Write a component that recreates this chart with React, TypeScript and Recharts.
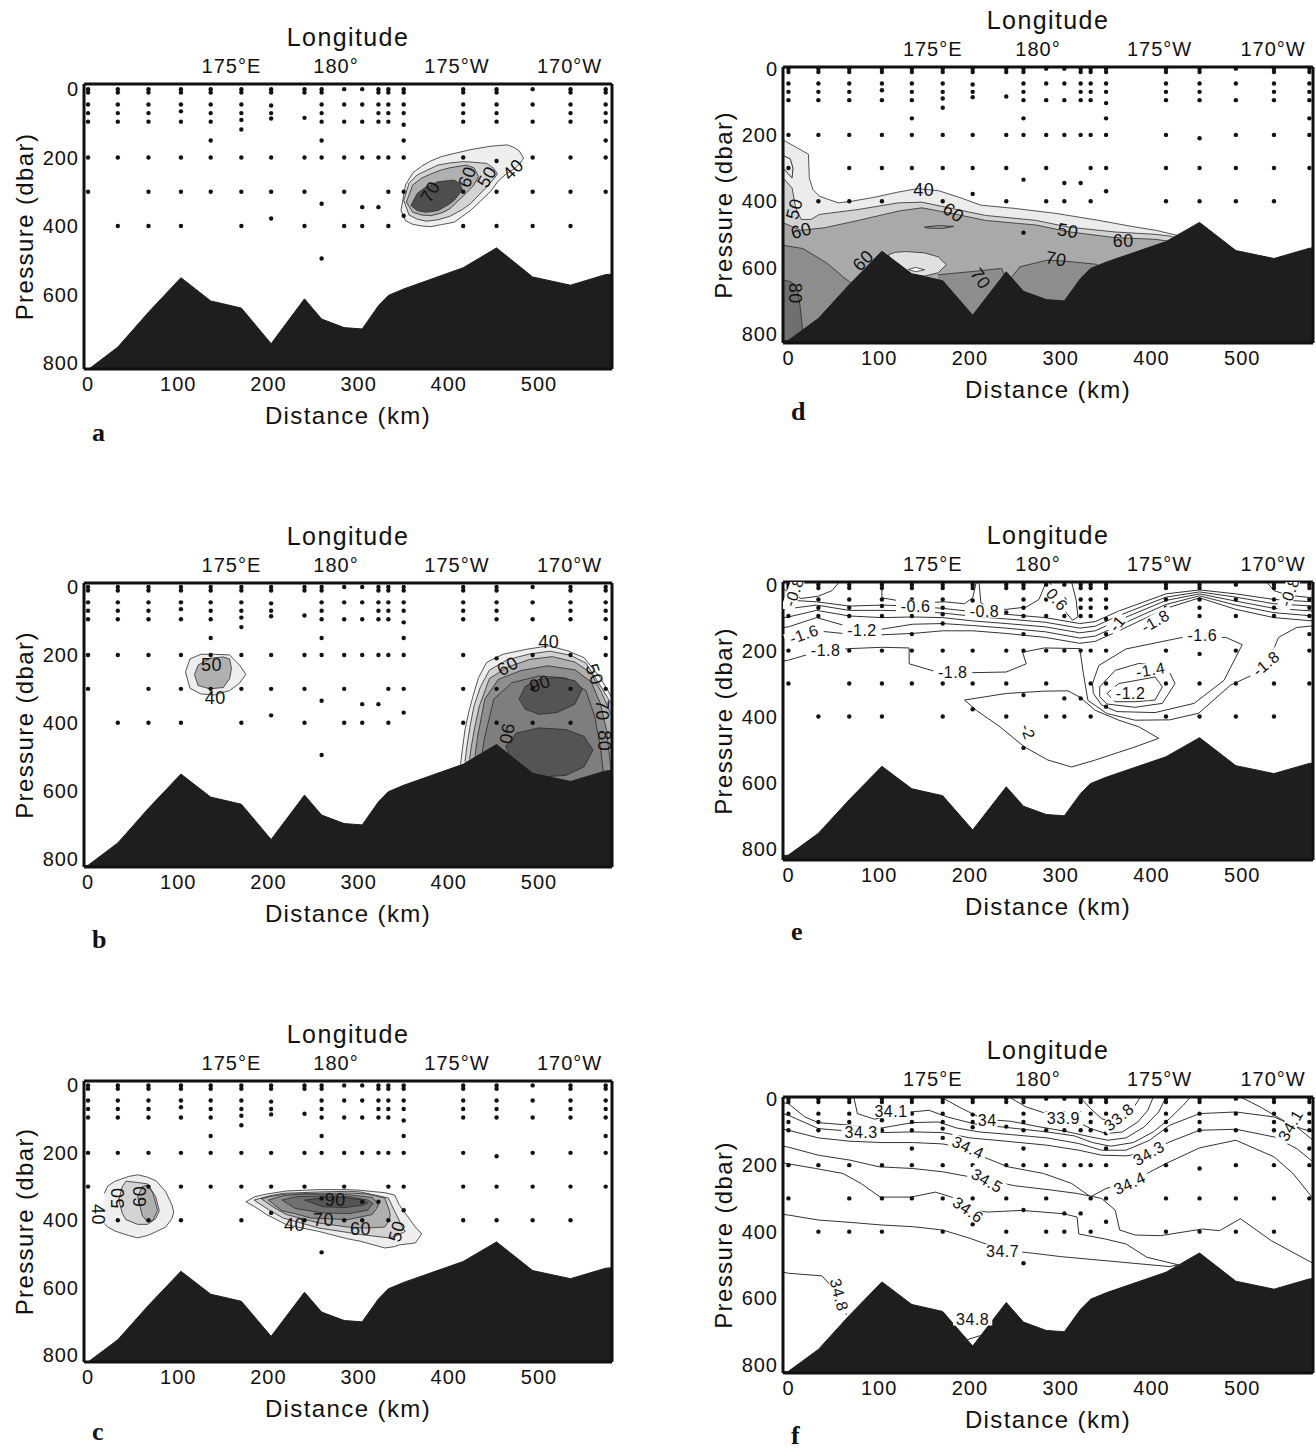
import React from 'react';
import { ComposedChart, XAxis, YAxis, Area, Line, Scatter } from 'recharts';

// ---------------- axes ----------------
const distanceTicks = [0, 100, 200, 300, 400, 500];
const pressureTicks = [0, 200, 400, 600, 800];
const longitudeTickKm = [159, 275, 409, 534];
const longitudeTickLabels = ['175°E', '180°', '175°W', '170°W'];

// ---------------- stations & bottom ----------------
const stationKm = [0, 33, 67, 103, 136, 170, 203, 240, 259, 284, 304, 322, 333, 350, 416, 453, 493, 535, 574];
const stationLevels = [
  [0, 10, 45, 70, 95, 200, 300],
  [0, 10, 45, 70, 95, 200, 400],
  [0, 10, 45, 70, 95, 200, 300, 400],
  [0, 10, 45, 65, 95, 200, 300, 400],
  [0, 10, 45, 70, 95, 150, 200, 300],
  [0, 10, 45, 70, 90, 118, 200, 300, 400],
  [0, 10, 48, 70, 86, 200, 300, 378],
  [0, 10, 84, 200, 300, 400],
  [0, 10, 45, 70, 95, 150, 200, 335, 495],
  [0, 45, 95, 200, 300, 400],
  [0, 45, 95, 200, 345, 400],
  [0, 10, 45, 70, 95, 200, 345],
  [0, 10, 45, 70, 95, 200, 300, 400],
  [0, 10, 45, 70, 104, 150, 200, 300, 370],
  [0, 10, 45, 70, 95, 200, 300, 400],
  [0, 10, 45, 70, 95, 210, 300, 400],
  [0, 45, 95, 200, 300, 400],
  [0, 10, 45, 70, 95, 200, 300, 400],
  [0, 10, 45, 70, 95, 150, 200, 300],
];
const bottomKm = [-6, 0, 33, 67, 103, 136, 170, 203, 240, 259, 284, 304, 322, 333, 350, 416, 453, 493, 535, 574, 585];
const bottomDepth = [822, 820, 754, 652, 551, 619, 640, 744, 613, 672, 697, 701, 633, 603, 584, 522, 464, 549, 573, 542, 540];

// ---------------- panel a : [km, top, bottom] ----------------
const a40 = [[347,355,355],[352,280,385],[360,245,395],[370,225,400],[380,210,402],[392,197,396],[406,188,389],[424,177,355],[446,167,300],[455,165,268],[465,163,245],[472,170,234],[478,180,220],[483,202,202]];
const a50 = [[350,325,325],[356,275,368],[365,251,380],[375,238,386],[388,222,382],[401,216,372],[415,212,352],[424,213,335],[442,217,286],[450,232,262],[454,248,248]];
const a60 = [[353,330,330],[360,280,360],[370,260,368],[380,248,370],[392,236,362],[401,230,350],[419,222,305],[428,230,280],[433,255,255]];
const a70 = [[358,340,340],[365,305,355],[375,285,360],[388,271,355],[400,267,337],[406,266,325],[412,275,305],[415,292,292]];
const aLabels = [[379,300,'70',-60],[420,256,'60',-70],[442,256,'50',-60],[471,234,'40',-45]];

// ---------------- panel b ----------------
const b40s = [[108,250,250],[113,212,298],[125,198,315],[140,198,318],[157,200,305],[168,230,283],[175,257,257]];
const b50s = [[118,258,258],[122,230,290],[135,210,300],[150,206,296],[157,212,270],[159,240,240]];
const b40 = [[413,523,620],[415,480,620],[418,420,620],[422,370,620],[427,320,620],[433,267,620],[442,222,620],[460,198,620],[487,183,620],[511,173,620],[532,188,620],[550,208,620],[568,267,620],[582,330,620]];
const b50 = [[418,515,620],[420,470,620],[424,405,620],[428,350,620],[435,295,620],[445,245,620],[465,214,620],[490,197,620],[512,189,620],[535,201,620],[552,224,620],[566,282,620],[582,352,620]];
const b60 = [[423,508,620],[425,470,620],[429,410,620],[434,350,620],[445,270,620],[465,236,620],[490,213,620],[515,205,620],[540,221,620],[558,254,620],[570,314,620],[582,388,620]];
const b70 = [[429,500,620],[432,440,620],[440,330,620],[455,272,620],[480,246,620],[510,232,620],[540,244,620],[558,280,620],[568,342,620],[575,422,620],[580,540,620]];
const b80 = [[437,488,620],[440,440,620],[450,330,620],[470,282,620],[500,262,620],[530,268,620],[552,305,620],[562,382,620],[568,470,620],[572,560,620]];
const b90a = [[478,330,330],[485,292,360],[500,272,375],[520,266,370],[540,276,345],[548,300,300]];
const b90b = [[463,470,470],[475,430,540],[500,415,560],[530,420,555],[550,440,530],[560,480,480]];
const bLabels = [[137,227,'50',0],[141,325,'40',0],[511,160,'40',0],[465,232,'60',-30],[562,257,'50',70],[571,363,'70',90],[573,453,'80',90],[501,284,'90',-20],[465,433,'90',100]];

// ---------------- panel c ----------------
const c40L = [[18,320,410],[22,298,420],[30,284,432],[45,270,445],[55,265,452],[66,272,445],[76,284,433],[86,315,420],[93,354,395],[95,375,375]];
const c50L = [[34,340,340],[38,300,380],[42,284,398],[55,288,412],[66,292,412],[75,330,395],[79,372,372]];
const c60L = [[55,330,330],[60,300,385],[66,296,405],[72,320,400],[77,370,370]];
const c40C = [[175,345,345],[185,330,360],[198,322,383],[220,313,413],[256,309,433],[288,309,455],[302,311,462],[329,318,482],[340,325,478],[345,354,473],[363,420,467],[370,440,440]];
const c50C = [[184,340,340],[200,328,368],[216,320,393],[256,316,423],[288,314,436],[302,316,442],[333,334,452],[340,373,448],[350,428,436],[352,432,432]];
const c60C = [[192,336,336],[205,328,360],[220,322,383],[256,320,408],[288,319,420],[310,322,423],[329,334,420],[334,370,400],[335,385,385]];
const c70C = [[200,340,340],[215,328,372],[229,324,380],[247,324,393],[288,324,398],[315,332,383],[320,345,365],[322,355,355]];
const c80C = [[215,340,340],[230,330,365],[260,328,378],[290,330,380],[310,340,370],[316,350,350]];
const c90C = [[240,340,340],[260,333,360],[285,333,362],[305,340,355],[310,348,348]];
const cLabels = [[12,383,'40',90],[33,334,'50',-90],[57,329,'60',-90],[229,413,'40',0],[261,398,'70',0],[302,423,'60',0],[342,432,'50',-75],[274,339,'90',0]];

// ---------------- panel d : [km, pressure] band tops ----------------
const d40 = [[-6,215],[22,258],[23,330],[27,365],[34,385],[55,405],[70,400],[95,388],[120,373],[142,362],[165,368],[190,390],[212,412],[250,422],[295,437],[340,457],[380,477],[405,488],[428,503],[440,520],[453,500],[493,580],[535,600],[578,580]];
const d50 = [[-6,330],[4,360],[8,420],[14,455],[25,455],[34,440],[77,425],[121,405],[147,403],[182,423],[217,443],[273,458],[308,478],[360,493],[404,500],[422,506],[440,530],[453,510],[493,590],[535,610],[578,590]];
const d60 = [[-6,465],[14,488],[40,480],[77,458],[121,430],[147,420],[182,438],[217,458],[273,472],[308,492],[360,510],[404,515],[422,522],[440,540],[453,520],[493,600],[535,620],[578,600]];
const d70a = [[-6,533],[16,543],[43,588],[60,628],[75,660],[80,690]];
const d80 = [[-6,638],[3,643],[10,668],[13,720],[16,800]];
const d70b = [[165,622],[200,613],[235,603],[240,640]];
const d70c = [[243,640],[255,598],[270,588],[285,578],[300,580],[320,585],[338,590],[346,600]];
const dBubble = [[110,562,562],[118,554,600],[130,552,618],[150,556,626],[165,568,616],[174,592,592]];
const dBubbleCore = [[132,606,606],[140,600,613],[150,607,607]];
const dLoopA = [[150,478],[165,474],[182,476],[170,482],[152,481],[150,478]];
const dLoopB = [[-6,262],[2,272],[5,300],[4,330],[0,318],[-6,300]];
const dLabels = [[149,366,'40',0],[182,433,'60',35],[6,423,'50',-75],[14,488,'60',-15],[308,488,'50',10],[369,518,'60',0],[82,578,'60',-45],[295,573,'70',10],[212,633,'70',55],[8,678,'80',90]];

// ---------------- panel e : contour lines [km, pressure] ----------------
const e08a = [[-6,12],[4,30],[14,42],[33,35],[48,18],[56,-8]];
const e06a = [[103,-8],[103,40],[124,50],[150,55],[172,52],[194,58],[203,40],[207,-8]];
const e08b = [[210,-8],[212,55],[222,72],[240,75],[262,68],[276,45],[284,-8]];
const e06b = [[288,-8],[296,40],[306,85],[313,108],[319,98],[317,47],[312,-8]];
const e08c = [[527,-8],[535,18],[550,32],[578,40]];
const eBand1 = [[-6,45],[0,47],[31,52],[67,65],[103,62],[137,65],[170,72],[203,82],[240,90],[283,100],[321,118],[338,112],[364,80],[416,28],[453,16],[493,28],[535,45],[578,52]];
const eBand2 = [[-6,75],[0,73],[31,62],[67,78],[103,78],[137,80],[170,86],[203,96],[240,104],[283,114],[321,132],[338,126],[364,94],[416,38],[453,22],[493,38],[535,58],[578,65]];
const eBand3 = [[-6,100],[0,98],[31,78],[67,95],[103,100],[137,98],[170,100],[203,110],[240,118],[283,128],[321,146],[338,140],[364,108],[416,48],[453,28],[493,50],[535,72],[578,80]];
const eBand4 = [[-6,130],[0,128],[31,100],[67,128],[81,138],[103,135],[137,120],[170,118],[203,124],[240,132],[283,143],[321,162],[338,156],[364,124],[416,60],[453,34],[493,62],[535,85],[578,95]];
const eBand5 = [[-6,158],[0,153],[17,150],[31,140],[67,150],[103,152],[137,148],[170,140],[203,140],[240,148],[283,160],[321,178],[338,172],[364,140],[416,72],[453,40],[493,75],[535,100],[578,110]];
const e18 = [[-6,232],[0,229],[31,204],[67,194],[103,190],[133,192],[133,240],[160,262],[200,267],[240,265],[262,240],[258,205],[282,192],[321,194],[325,270],[330,351],[351,391],[382,411],[420,410],[452,390],[487,305],[526,255],[540,160],[560,130],[578,125]];
const e16Loop = [[335,300],[342,245],[372,195],[434,160],[482,160],[500,182],[480,290],[447,360],[404,388],[362,385],[345,365],[336,330],[335,300]];
const e14Loop = [[343,310],[360,260],[386,239],[417,249],[426,300],[412,360],[382,372],[351,362],[343,340],[343,310]];
const e12Loop = [[351,330],[364,300],[404,280],[412,310],[404,350],[382,355],[360,355],[351,330]];
const e20Loop = [[194,350],[240,330],[282,323],[308,322],[321,341],[338,381],[364,411],[386,431],[408,466],[382,492],[338,532],[312,553],[286,532],[260,492],[233,431],[207,381],[194,350]];
const eLabels = [[6,22,'-0.8',-70],[17,150,'-1.6',-20],[81,138,'-1.2',0],[41,200,'-1.8',0],[140,66,'-0.6',0],[216,80,'-0.8',0],[181,265,'-1.8',0],[296,45,'0.6',50],[362,118,'-1',-50],[404,110,'-1.8',-30],[456,152,'-1.6',0],[399,258,'-1.4',-10],[377,330,'-1.2',0],[526,239,'-1.8',-40],[264,446,'-2',70],[552,22,'-0.8',-70]];

// ---------------- panel f : salinity contours [km, pressure] ----------------
const f338 = [[321,-5],[333,30],[345,60],[358,72],[370,58],[380,28],[388,-5]];
const f339 = [[243,-5],[262,25],[290,50],[315,65],[333,90],[350,105],[368,100],[385,70],[396,35],[402,-5]];
const f340 = [[168,-5],[190,28],[215,62],[245,68],[275,84],[305,98],[333,115],[352,125],[372,118],[392,85],[408,40],[416,-5]];
const f341 = [[72,-5],[76,45],[95,62],[113,48],[135,40],[155,35],[175,55],[205,76],[245,88],[285,100],[315,112],[335,132],[355,143],[380,132],[402,100],[420,60],[435,20],[443,-5]];
const f341r = [[498,-5],[520,25],[548,70],[565,90],[578,100]];
const f342 = [[-6,12],[0,15],[18,55],[33,72],[68,80],[103,88],[137,72],[165,70],[185,88],[210,100],[245,108],[285,118],[320,135],[345,155],[372,155],[398,125],[420,80],[453,45],[493,40],[535,55],[560,85],[578,125]];
const f343 = [[-6,45],[0,50],[33,90],[68,98],[103,102],[137,100],[170,102],[200,118],[240,128],[285,140],[320,155],[345,170],[372,172],[397,162],[420,130],[453,95],[493,92],[535,115],[560,150],[578,190]];
const f344 = [[-6,92],[0,95],[33,118],[68,128],[103,132],[137,132],[169,136],[198,148],[210,170],[242,205],[281,225],[312,255],[333,295],[350,270],[378,250],[416,195],[453,148],[493,125],[535,175],[556,225],[578,300]];
const f345 = [[-6,143],[0,146],[33,170],[68,185],[100,205],[137,210],[170,220],[200,235],[219,246],[250,262],[290,275],[318,285],[345,300],[360,335],[365,395],[382,410],[410,412],[456,392],[475,397],[498,361],[532,427],[578,495]];
const f346 = [[-6,193],[0,196],[30,210],[60,225],[80,255],[101,296],[135,296],[162,281],[190,305],[205,335],[219,341],[257,336],[303,346],[318,356],[320,407],[349,422],[372,437],[395,477],[430,500]];
const f347 = [[-6,348],[0,350],[33,365],[68,372],[103,380],[137,385],[170,395],[200,420],[236,455],[270,465],[300,475],[340,485],[380,495],[420,505],[435,497]];
const f348a = [[-6,522],[0,525],[37,533],[46,560],[56,588],[64,650]];
const f348b = [[193,728],[212,712]];
const fLabels = [[113,38,'34.1',0],[80,100,'34.3',0],[219,66,'34',0],[303,60,'33.9',0],[364,55,'33.8',-40],[198,146,'34.4',25],[219,246,'34.5',30],[198,334,'34.6',35],[236,458,'34.7',0],[397,164,'34.3',-30],[376,254,'34.4',-25],[553,80,'34.1',-60],[56,590,'34.8',75],[203,662,'34.8',0]];

// ---------------- helpers ----------------
const toRange = (arr) => arr.map(([x, t, b]) => ({ x, r: [t, b] }));
const toLine = (arr) => arr.map(([x, y]) => ({ x, y }));
const toLabels = (arr) => arr.map(([x, y, t, a]) => ({ x, y, t, a }));
const stationDots = stationKm.flatMap((x, i) => stationLevels[i].map((y) => ({ x, y })));
const bathymetry = bottomKm.map((x, i) => ({ x, y: bottomDepth[i] }));

const G40 = '#eeeeee', G50 = '#d3d3d3', G60 = '#b0b0b0', G70 = '#8e8e8e', G80 = '#707070', G90 = '#545454';

const LEFT = { left: 84, width: 528, xDomain: [-4.5, 581] };
const RIGHT = { left: 783, width: 530, xDomain: [-6, 578] };

const panels = [
  { ...LEFT, top: 84, height: 285, yDomain: [-15, 818], letter: 'a', letterBase: 442, labelSize: 18, labelBg: false,
    shades: [['r', a40, G40], ['r', a50, G50], ['r', a60, G60], ['r', a70, '#4e4e4e']], lines: [], labels: aLabels },
  { ...LEFT, top: 583, height: 284, yDomain: [-12, 825], letter: 'b', letterBase: 949, labelSize: 18, labelBg: false,
    shades: [['r', b40s, G40], ['r', b50s, G60], ['r', b40, G40], ['r', b50, G50], ['r', b60, G60], ['r', b70, G70], ['r', b80, '#7e7e7e'], ['r', b90a, G90], ['r', b90b, G90]], lines: [], labels: bLabels },
  { ...LEFT, top: 1081, height: 281, yDomain: [-13, 820], letter: 'c', letterBase: 1441, labelSize: 18, labelBg: false,
    shades: [['r', c40L, G40], ['r', c50L, G50], ['r', c60L, G60], ['r', c40C, G40], ['r', c50C, G50], ['r', c60C, G60], ['r', c70C, G70], ['r', c80C, G80], ['r', c90C, G90]], lines: [], labels: cLabels },
  { ...RIGHT, top: 67, height: 276, yDomain: [-5, 828], letter: 'd', letterBase: 421, labelSize: 18, labelBg: false,
    shades: [['f', d40, '#ececec'], ['f', d50, '#d2d2d2'], ['f', d60, '#a9a9a9'], ['f', d70a, '#8d8d8d'], ['f', d80, '#6f6f6f'], ['f', d70b, '#8d8d8d'], ['f', d70c, '#8d8d8d'], ['r', dBubble, '#e0e0e0'], ['r', dBubbleCore, '#ffffff']],
    lines: [dLoopA, dLoopB], labels: dLabels },
  { ...RIGHT, top: 582, height: 278, yDomain: [-8, 835], letter: 'e', letterBase: 941, labelSize: 16, labelBg: true,
    shades: [], lines: [e08a, e06a, e08b, e06b, e08c, eBand1, eBand2, eBand3, eBand4, eBand5, e18, e16Loop, e14Loop, e12Loop, e20Loop], labels: eLabels },
  { ...RIGHT, top: 1097, height: 276, yDomain: [-5, 825], letter: 'f', letterBase: 1445, labelSize: 16, labelBg: true,
    shades: [], lines: [f338, f339, f340, f341, f341r, f342, f343, f344, f345, f346, f347, f348a, f348b], labels: fLabels },
];

const L = 84, R = 4, T = 70, B = 80;

function makeLabelShape(bg, size) {
  return (props) => {
    const { cx, cy } = props;
    const p = props.payload || props;
    if (cx == null || cy == null) return null;
    const w = String(p.t).length * size * 0.58 + 2;
    return (
      <g transform={`translate(${cx},${cy}) rotate(${p.a || 0})`}>
        {bg ? <rect x={-w / 2} y={-size * 0.42} width={w} height={size * 0.84} fill="#ffffff" /> : null}
        <text x={0} y={0} dy="0.36em" textAnchor="middle" fontSize={size} fill="#111" className="clabel">{p.t}</text>
      </g>
    );
  };
}

const dotShape = (props) => (props.cx == null ? null : <circle cx={props.cx} cy={props.cy} r={2.2} fill="#111" />);

function Panel({ spec }) {
  const { left, top, width, height, xDomain, yDomain } = spec;
  const axisLine = { stroke: '#111', strokeWidth: 3 };
  return (
    <div style={{ position: 'absolute', left: left - L, top: top - T }}>
      <ComposedChart width={width + L + R} height={height + T + B} margin={{ top: 0, right: 0, bottom: 0, left: 0 }}>
        <XAxis dataKey="x" type="number" domain={xDomain} allowDataOverflow ticks={distanceTicks} orientation="bottom"
          height={B} tickLine={false} tickSize={0} tickMargin={8} axisLine={axisLine} tick={{ fontSize: 20, fill: '#111' }}
          label={{ value: 'Distance (km)', position: 'insideBottom', offset: 25, fontSize: 24, fill: '#111' }} />
        <XAxis xAxisId="top" dataKey="x" type="number" domain={xDomain} allowDataOverflow ticks={longitudeTickKm} orientation="top"
          height={T} tickLine={false} tickSize={0} tickMargin={11} axisLine={axisLine} tick={{ fontSize: 20, fill: '#111' }}
          tickFormatter={(v) => longitudeTickLabels[longitudeTickKm.indexOf(v)] || ''}
          label={{ value: 'Longitude', position: 'insideTop', offset: 14, fontSize: 25, fill: '#111' }} />
        <YAxis type="number" domain={yDomain} reversed allowDataOverflow ticks={pressureTicks} width={L}
          tickLine={false} tickSize={0} tickMargin={5} axisLine={axisLine} tick={{ fontSize: 20, fill: '#111' }}
          label={{ value: 'Pressure (dbar)', position: 'insideLeft', angle: -90, offset: 24, fontSize: 24, fill: '#111', textAnchor: 'middle' }} />
        <YAxis yAxisId="r" orientation="right" type="number" domain={yDomain} reversed allowDataOverflow width={R}
          tick={false} tickLine={false} axisLine={axisLine} />
        {spec.shades.map(([kind, pts, fill], i) =>
          kind === 'r' ? (
            <Area key={'s' + i} data={toRange(pts)} dataKey="r" type="linear" fill={fill} fillOpacity={1}
              stroke="#2b2b2b" strokeWidth={0.8} dot={false} activeDot={false} isAnimationActive={false} />
          ) : (
            <Area key={'s' + i} data={toLine(pts)} dataKey="y" baseValue="dataMax" type="linear" fill={fill} fillOpacity={1}
              stroke="#2b2b2b" strokeWidth={0.8} dot={false} activeDot={false} isAnimationActive={false} />
          )
        )}
        {spec.lines.map((pts, i) => (
          <Line key={'l' + i} data={toLine(pts)} dataKey="y" type="linear" stroke="#333" strokeWidth={1}
            dot={false} activeDot={false} isAnimationActive={false} />
        ))}
        <Area data={bathymetry} dataKey="y" baseValue="dataMax" type="linear" fill="#1f1d1e" fillOpacity={1}
          stroke="#1f1d1e" strokeWidth={1} dot={false} activeDot={false} isAnimationActive={false} />
        <Scatter data={stationDots} dataKey="y" shape={dotShape} isAnimationActive={false} />
        <Scatter data={toLabels(spec.labels)} dataKey="y" shape={makeLabelShape(spec.labelBg, spec.labelSize)} isAnimationActive={false} />
      </ComposedChart>
      <div style={{ position: 'absolute', left: L + 8, top: T + (spec.letterBase - top) - 22,
        fontFamily: "'Liberation Serif', 'Times New Roman', serif", fontWeight: 'bold', fontSize: 26, lineHeight: '26px', color: '#111' }}>
        {spec.letter}
      </div>
    </div>
  );
}

export default function App() {
  return (
    <div className="fig" style={{ position: 'absolute', left: 0, top: 0, width: 1316, height: 1449, background: '#fff', overflow: 'hidden' }}>
      <style>{`
        .fig text { font-family: 'Liberation Sans', Arial, Helvetica, sans-serif; }
        .fig .recharts-cartesian-axis-tick-value { letter-spacing: 1px; }
        .fig .recharts-label { letter-spacing: 1.4px; }
        .fig .clabel { letter-spacing: 0.5px; }
      `}</style>
      {panels.map((p, i) => <Panel key={i} spec={p} />)}
    </div>
  );
}
